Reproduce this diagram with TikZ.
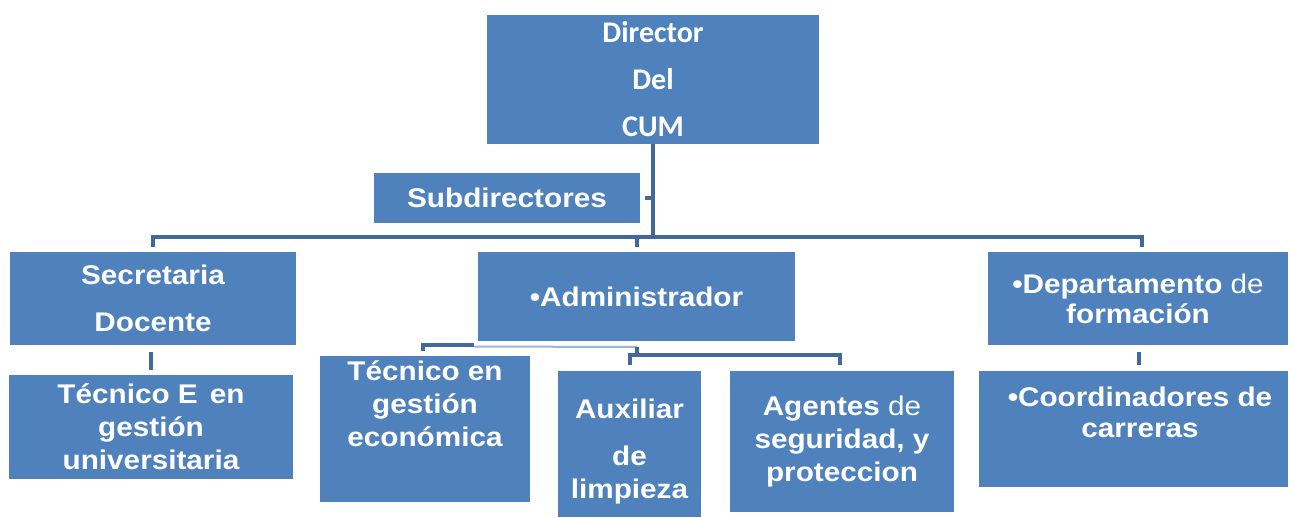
\documentclass[tikz,border=0pt]{standalone}
\usepackage{fontspec}
\setmainfont{Liberation Sans}[FakeStretch=1.1]
\newfontfamily\calfont{Carlito}
\definecolor{boxblue}{HTML}{4F81BD}
\definecolor{lineblue}{HTML}{41699B}
\definecolor{liteblue}{HTML}{9DB5D9}
\begin{document}
\begin{tikzpicture}[x=1pt,y=-1pt,
  box/.style={fill=boxblue, draw=none, inner sep=0pt, text=white,
    font=\bfseries\fontsize{27}{33}\selectfont, align=center},
  txt/.style={inner sep=0pt, text=white, font=\bfseries\fontsize{27}{33}\selectfont, align=center},
  conn/.style={draw=lineblue, line width=4pt},
  lite/.style={draw=liteblue, line width=2pt}]
\useasboundingbox (0,0) rectangle (1289,517);
% boxes
\node[box, minimum width=332pt, minimum height=129pt, font=\calfont\bfseries\fontsize{30}{47}\selectfont] (dir) at (653,79.5) {Director\\Del\\CUM};
\node[box, minimum width=266pt, minimum height=50pt] (sub) at (507,198) {Subdirectores};
\node[box, minimum width=286pt, minimum height=93pt, font=\bfseries\fontsize{27}{47}\selectfont] (sec) at (153,298.5) {Secretaria\\Docente};
\node[box, minimum width=317pt, minimum height=89pt] (adm) at (636.5,296.5) {•Administrador};
\node[box, minimum width=300pt, minimum height=93pt, font=\bfseries\fontsize{27}{30}\selectfont] (dep) at (1138,298.5) {•Departamento {\mdseries de}\\formación};
\node[box, minimum width=284pt, minimum height=104pt] (te) at (151,427) {Técnico E\hspace{0.45em}en\\gestión\\universitaria};
\node[box, minimum width=210pt, minimum height=146pt] (tg) at (425,429) {};
\node[txt] (tgt) at (425,404) {Técnico en\\gestión\\económica};
\node[box, minimum width=143pt, minimum height=146pt] (aux) at (629.5,444) {};
\node[txt] (auxt) at (629.5,452) {Auxiliar\\[14pt]de\\limpieza};
\node[box, minimum width=224pt, minimum height=141pt] (age) at (842,441.5) {Agentes {\mdseries de}\\seguridad, y\\proteccion};
\node[box, minimum width=309pt, minimum height=116pt] (coo) at (1133.5,429) {};
\node[txt, font=\bfseries\fontsize{27}{31}\selectfont] (coot) at (1140,412.5) {•Coordinadores de\\carreras};
% connectors
\coordinate (hub) at (653,237);
\coordinate (barL) at (153,237);
\coordinate (barR) at (1142,237);
\draw[conn] (dir.south) -- (hub);
\draw[conn] ([xshift=5pt]sub.east) -- (sub.east -| hub);
\draw[conn] (153,247) -- (barL) -- (barR) -- (1142,247);
\draw[conn] (637,237) -- (637,247);
\draw[conn] (151,352) -- (151,370);
\draw[conn] (1139,352) -- (1139,365);
\coordinate (aj) at (637,347);
\draw[conn] (423,351) -- (423,345) -- (474,345);
\draw[lite] (474,346.5) -- (aj);
\draw[conn] (aj) -- (637,355);
\draw[conn] (630,365) -- (630,355) -- (840,355) -- (840,365);
\end{tikzpicture}
\end{document}
